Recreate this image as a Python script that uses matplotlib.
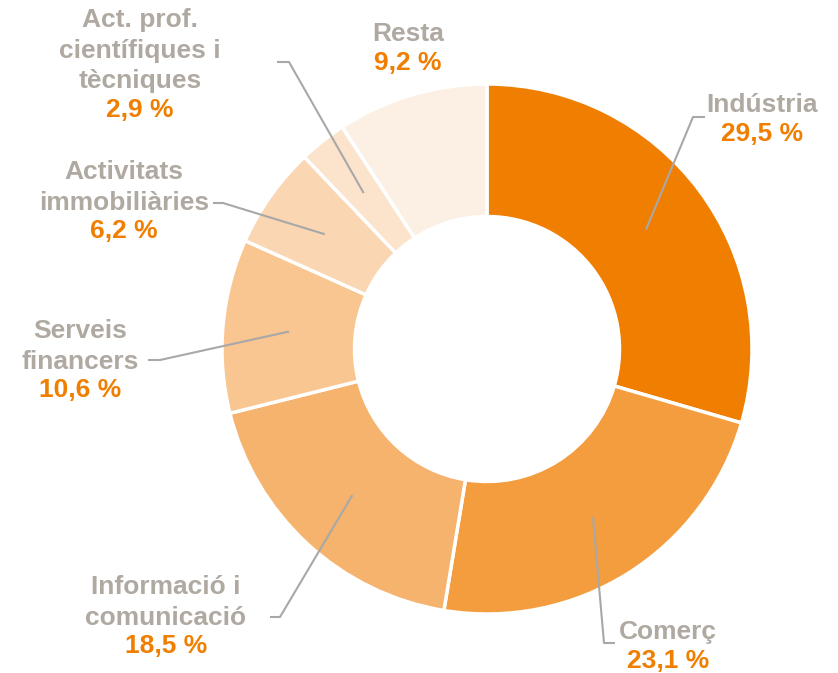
import numpy as np
import matplotlib.pyplot as plt

plt.rcParams['font.family'] = ['Liberation Sans', 'DejaVu Sans']

# Data
names = ["Indústria", "Comerç", "Informació i\ncomunicació", "Serveis\nfinancers",
         "Activitats\nimmobiliàries", "Act. prof.\ncientífiques i\ntècniques", "Resta"]
shares = [29.5, 23.1, 18.5, 10.6, 6.2, 2.9, 9.2]
value_labels = ["29,5 %", "23,1 %", "18,5 %", "10,6 %", "6,2 %", "2,9 %", "9,2 %"]
colors = ["#F07E00", "#F49D3F", "#F6B36D", "#F9C591", "#FAD6B2", "#FCE3CB", "#FCF0E5"]

W, H = 838, 673
fig = plt.figure(figsize=(W / 100, H / 100), dpi=100)
ax = fig.add_axes([0, 0, 1, 1])


def Y(y):
    # pixel row (from top) -> data y
    return H - y


cx, cy, R = 487, 349, 265
wedges, _ = ax.pie(shares, colors=colors, startangle=90, counterclock=False,
                   center=(cx, Y(cy)), radius=R, frame=True,
                   wedgeprops=dict(width=R * 0.5, edgecolor="white", linewidth=2.5))
ax.set_xlim(0, W)
ax.set_ylim(0, H)
ax.set_aspect("equal")
ax.axis("off")

gray = "#AFA9A1"
orange = "#F07E00"
line_c = "#A8A8A8"

# label layout: (text center x, top y of name block, leader end x, leader end y, elbow dx)
layout = [
    (762, 90, 705, 117, -12),
    (668, 617, 615, 643, -11),
    (166, 572, 270, 617, 10),
    (80, 316, 148, 360, 12),
    (124, 157, 213, 203, 10),
    (140, 5, 277, 62, 12),
    (408, 19, None, None, 0),
]
rf = 0.75  # leader tip radius (fraction of outer radius)

lh = 30.5
for i, (w, nm, val) in enumerate(zip(wedges, names, value_labels)):
    tx, ty, ex, ey, edx = layout[i]
    nlines = nm.count("\n") + 1
    for k, line in enumerate(nm.split("\n")):
        ax.text(tx, Y(ty + k * lh + lh / 2), line, color=gray, fontsize=19, fontweight="bold",
                ha="center", va="center")
    ax.text(tx, Y(ty + nlines * lh + lh / 2 - 2), val, color=orange, fontsize=19,
            fontweight="bold", ha="center", va="center")
    if ex is None:
        continue
    ang = np.deg2rad((w.theta1 + w.theta2) / 2)
    px = cx + R * rf * np.cos(ang)
    py = Y(cy) + R * rf * np.sin(ang)
    ax.plot([ex, ex + edx, px], [Y(ey), Y(ey), py], color=line_c, lw=1.5, solid_capstyle="butt")

fig.savefig("out.png", dpi=100, facecolor="white")
